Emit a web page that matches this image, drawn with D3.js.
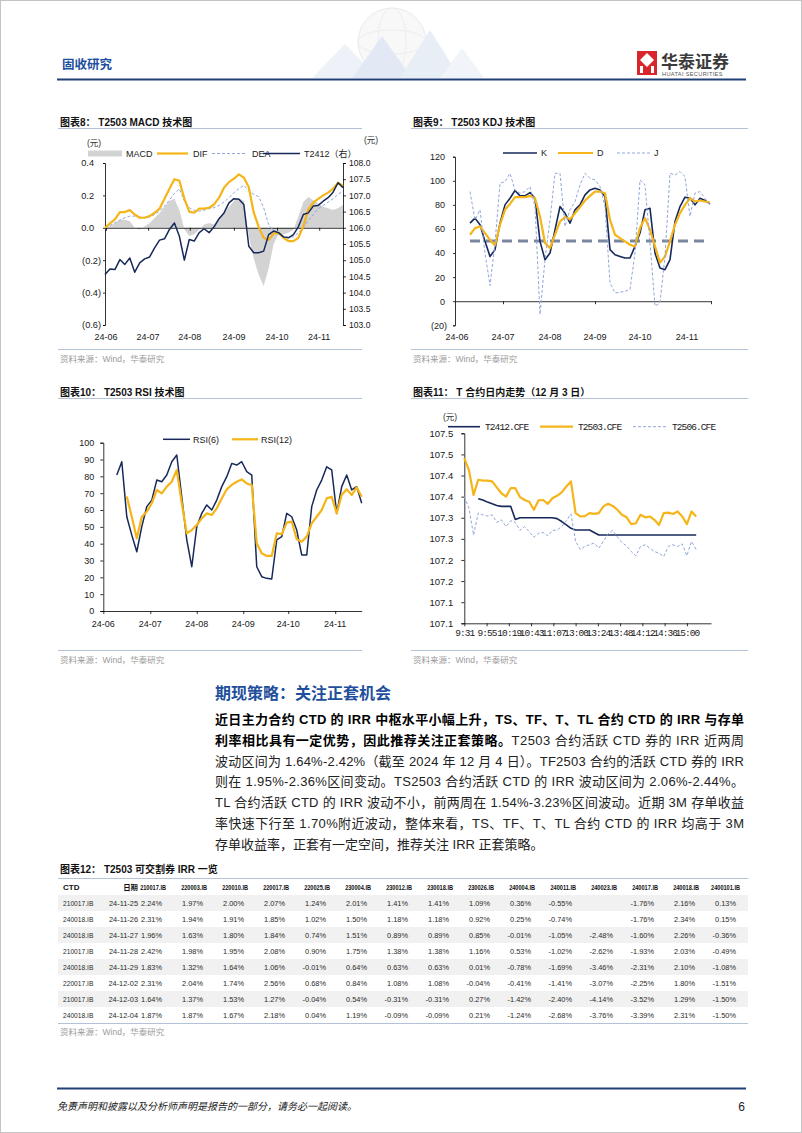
<!DOCTYPE html>
<html>
<head>
<meta charset="utf-8">
<title>T2503 技术图</title>
<script src="https://cdn.jsdelivr.net/npm/d3@7"></script>
<style>
  body { margin: 0; background: #fff; }
  svg { display: block; }
</style>
</head>
<body>
<svg id="page" width="802" height="1133"></svg>
<script>
// ---------- 图表8 MACD ----------
var macdMonths = ["24-06", "24-07", "24-08", "24-09", "24-10", "24-11"];
var macdMonthAt = [0.2, 8.7, 17.1, 26, 34.7, 43.2];
var macdLeftTicks = [-0.6, -0.4, -0.2, 0, 0.2, 0.4];
var macdRightTicks = [103, 103.5, 104, 104.5, 105, 105.5, 106, 106.5, 107, 107.5, 108];
var macdBar = [0, 0.01, 0.03, 0.05, 0.05, 0.04, 0, -0.01, 0.01, 0.03, 0.06, 0.09, 0.13, 0.165, 0.18, 0.11,
  -0.01, -0.05, -0.04, -0.01, 0.02, 0.03, 0.02, 0.06, 0.09, 0.13, 0.165, 0.185, 0.165, -0.05, -0.19, -0.29,
  -0.36, -0.25, -0.10, -0.04, -0.04, -0.03, -0.01, 0.07, 0.16, 0.19, 0.17, 0.15, 0.13, 0.12, 0.11, 0.12, 0.14];
var macdDIF = [0.00, 0.027, 0.052, 0.097, 0.097, 0.109, 0.082, 0.062, 0.062, 0.072, 0.093, 0.118, 0.179, 0.241,
  0.30, 0.29, 0.18, 0.10, 0.093, 0.118, 0.118, 0.124, 0.144, 0.186, 0.247, 0.282, 0.303, 0.33, 0.31, 0.25, 0.093,
  0.006, -0.062, -0.075, -0.035, -0.031, -0.062, -0.082, -0.082, -0.062, 0.010, 0.113, 0.155, 0.179, 0.200,
  0.217, 0.241, 0.278, 0.258];
var macdDEA = [0.000, 0.014, 0.031, 0.047, 0.062, 0.072, 0.072, 0.068, 0.062, 0.068, 0.082, 0.103, 0.134, 0.171,
  0.212, 0.241, 0.165, 0.124, 0.107, 0.103, 0.109, 0.118, 0.124, 0.138, 0.159, 0.186, 0.217, 0.241, 0.262, 0.227,
  0.206, 0.192, 0.124, 0.021, -0.021, -0.041, -0.052, -0.058, -0.056, -0.031, 0.000, 0.047, 0.082, 0.118, 0.138,
  0.159, 0.179, 0.206, 0.227];
var macdT2412 = [104.56, 104.73, 104.71, 105.02, 104.87, 105.07, 104.63, 104.92, 105.04, 105.10, 105.38, 105.62,
  105.66, 105.95, 106.15, 105.74, 105.00, 105.64, 105.59, 105.85, 105.97, 105.85, 106.03, 106.28, 106.46, 106.77,
  106.90, 106.88, 106.72, 105.43, 105.23, 105.23, 105.28, 105.79, 105.90, 105.85, 105.72, 105.69, 105.79, 106.03,
  106.41, 106.46, 106.67, 106.69, 106.82, 106.93, 107.10, 107.39, 107.24];

// ---------- 图表9 KDJ ----------
var kdjMonthAt = [-2.6, 6.6, 16, 25, 34, 43.4];
var kdjTickAt = [6.6, 25, 48.2];
var kdjTicks = [-20, 0, 20, 40, 60, 80, 100, 120];
var kdjMidLevel = 50;
var kdjK = [64.8, 69.0, 63.5, 49.7, 37.2, 42.8, 64.8, 80.0, 85.5, 91.9, 87.5, 87.5, 90.2, 85.5, 49.7, 34.5, 40.0,
  59.3, 78.6, 73.1, 64.8, 75.9, 80.0, 88.3, 92.4, 93.8, 92.4, 86.9, 42.8, 38.6, 37.2, 35.9, 35.9, 45.5, 56.6, 75.9,
  77.2, 40.0, 27.6, 26.2, 34.5, 66.2, 78.6, 86.4, 85.5, 80.0, 85.5, 83.6, 80.8];
var kdjD = [55.2, 60.7, 62.1, 56.6, 51.0, 46.3, 63.5, 75.9, 80.8, 86.4, 86.4, 86.4, 87.5, 85.5, 70.4, 48.3, 44.1,
  55.2, 66.2, 69.8, 68.1, 73.1, 78.1, 83.6, 87.5, 91.0, 91.0, 89.7, 67.6, 55.2, 52.4, 49.7, 46.9, 45.5, 60.7, 69.0,
  59.3, 45.5, 32.0, 37.2, 49.7, 63.5, 73.1, 80.0, 85.5, 82.8, 83.6, 82.8, 81.9];
var kdjJ = [91.0, 67.6, 75.9, 40.0, 13.0, 48.3, 98.0, 99.3, 106.2, 92.4, 89.7, 91.0, 95.2, 78.6, -11.0, 34.5, 67.6,
  106.2, 106.2, 62.1, 75.9, 82.8, 96.6, 106.2, 102.1, 100.7, 95.2, 78.6, 15.2, 6.9, 7.4, 8.3, 9.7, 40.0, 100.7,
  96.6, 48.3, -4.1, -1.4, 37.2, 106.2, 104.8, 107.6, 103.5, 70.4, 89.7, 91.0, 85.5, 80.0];

// ---------- 图表10 RSI ----------
var rsiMonthAt = [-2.7, 6.7, 16, 25.3, 34.3, 43.7];
var rsiTicks = [0, 10, 20, 30, 40, 50, 60, 70, 80, 90, 100];
var rsi6 = [80.8, 88.7, 56.0, 45.1, 35.2, 50.1, 62.0, 65.9, 77.8, 76.8, 80.8, 88.7, 92.7, 67.9, 42.2, 26.3, 50.1,
  58.0, 63.0, 60.0, 65.9, 73.9, 79.8, 87.7, 86.7, 88.7, 82.8, 80.8, 26.3, 20.4, 19.4, 19.0, 42.2, 44.2, 58.0, 56.0,
  48.1, 33.3, 33.3, 62.0, 71.9, 77.8, 85.7, 83.8, 58.0, 73.9, 80.8, 71.9, 73.9, 64.0];
var rsi12 = [null, null, 68.0, 56.0, 43.2, 56.0, 59.0, 64.0, 71.9, 69.9, 73.9, 76.8, 83.8, 64.0, 46.1, 48.1, 51.1,
  55.0, 58.0, 57.0, 61.0, 66.9, 72.3, 74.9, 76.8, 78.2, 75.8, 74.9, 40.2, 34.3, 32.7, 32.7, 46.1, 45.7, 52.5, 53.1,
  42.6, 41.2, 44.2, 52.1, 56.0, 60.0, 66.9, 67.9, 58.0, 68.9, 72.3, 68.9, 73.5, 67.9];

// ---------- 图表11 日内走势 (one value per 5 trading minutes) ----------
var intraStep = 5;
var intraXTicks = [0, 24, 48, 72, 96, 120, 144, 168, 192, 216, 240];
var intraXLabels = ["9:31", "9:55", "10:19", "10:43", "11:07", "13:00", "13:24", "13:48", "14:12", "14:36", "15:00"];
var intraYTicks = [107.05, 107.10, 107.15, 107.20, 107.25, 107.30, 107.35, 107.40, 107.45, 107.50];
var intraYLabels = ["107.1", "107.1", "107.2", "107.2", "107.3", "107.3", "107.4", "107.4", "107.5", "107.5"];
var intraT2412 = [null, null, null, 107.345, 107.342, 107.337, 107.333, 107.329, 107.327, 107.327, 107.327,
  107.296, 107.300, 107.300, 107.300, 107.300, 107.300, 107.300, 107.300, 107.300, 107.298, 107.291, 107.283,
  107.275, 107.271, 107.271, 107.271, 107.271, 107.265, 107.259, 107.259, 107.259, 107.259, 107.259, 107.259,
  107.259, 107.259, 107.259, 107.259, 107.259, 107.259, 107.259, 107.259, 107.259, 107.259, 107.259, 107.259,
  107.259, 107.259, 107.259, 107.259];
var intraT2503 = [107.441, 107.413, 107.354, 107.390, 107.388, 107.388, 107.386, 107.372, 107.358, 107.350,
  107.370, 107.370, 107.349, 107.342, 107.338, 107.319, 107.341, 107.342, 107.333, 107.346, 107.352, 107.360,
  107.374, 107.386, 107.311, 107.303, 107.304, 107.311, 107.309, 107.311, 107.327, 107.333, 107.328, 107.319,
  107.307, 107.301, 107.285, 107.287, 107.307, 107.301, 107.303, 107.295, 107.283, 107.311, 107.312, 107.309,
  107.315, 107.303, 107.285, 107.315, 107.303];
var intraT2506 = [107.350, 107.323, 107.259, 107.311, 107.307, 107.304, 107.307, 107.289, 107.295, 107.279,
  107.293, 107.289, 107.270, 107.279, 107.267, 107.254, 107.263, 107.265, 107.257, 107.270, 107.271, 107.279,
  107.293, 107.309, 107.244, 107.225, 107.232, 107.236, 107.240, 107.228, 107.244, 107.262, 107.270, 107.255,
  107.241, 107.233, 107.220, 107.210, 107.232, 107.236, 107.228, 107.220, 107.216, 107.208, 107.232, 107.236,
  107.232, 107.238, 107.210, 107.244, 107.225];

// ---------- 图表12 IRR 表 ----------
var irrCols = ["210017.IB", "220003.IB", "220010.IB", "220017.IB", "220025.IB", "230004.IB", "230012.IB",
  "230018.IB", "230026.IB", "240004.IB", "240011.IB", "240023.IB", "240017.IB", "240018.IB", "2400101.IB"];
var irrCTD = ["210017.IB", "240018.IB", "240018.IB", "210017.IB", "240018.IB", "220017.IB", "210017.IB", "240018.IB"];
var irrDates = ["24-11-25", "24-11-26", "24-11-27", "24-11-28", "24-11-29", "24-12-02", "24-12-03", "24-12-04"];
var irrValues = [
  ["2.24%", "1.97%", "2.00%", "2.07%", "1.24%", "2.01%", "1.41%", "1.41%", "1.09%", "0.36%", "-0.55%", "", "-1.76%", "2.16%", "0.13%"],
  ["2.31%", "1.94%", "1.91%", "1.85%", "1.02%", "1.50%", "1.18%", "1.18%", "0.92%", "0.25%", "-0.74%", "", "-1.76%", "2.34%", "0.15%"],
  ["1.96%", "1.63%", "1.80%", "1.84%", "0.74%", "1.51%", "0.89%", "0.89%", "0.85%", "-0.01%", "-1.05%", "-2.48%", "-1.60%", "2.26%", "-0.36%"],
  ["2.42%", "1.98%", "1.95%", "2.08%", "0.90%", "1.75%", "1.38%", "1.38%", "1.16%", "0.53%", "-1.02%", "-2.62%", "-1.93%", "2.03%", "-0.49%"],
  ["1.83%", "1.32%", "1.64%", "1.06%", "-0.01%", "0.64%", "0.63%", "0.63%", "0.01%", "-0.78%", "-1.69%", "-3.46%", "-2.31%", "2.10%", "-1.08%"],
  ["2.31%", "2.04%", "1.74%", "2.56%", "0.68%", "0.84%", "1.08%", "1.08%", "-0.04%", "-0.41%", "-1.41%", "-3.07%", "-2.25%", "1.80%", "-1.51%"],
  ["1.64%", "1.37%", "1.53%", "1.27%", "-0.04%", "0.54%", "-0.31%", "-0.31%", "0.27%", "-1.42%", "-2.40%", "-4.14%", "-3.52%", "1.29%", "-1.50%"],
  ["1.87%", "1.87%", "1.67%", "2.18%", "0.04%", "1.19%", "-0.09%", "-0.09%", "0.21%", "-1.24%", "-2.68%", "-3.76%", "-3.39%", "2.31%", "-1.50%"]
];

// ---------- 正文 ----------
var bodyLines = [
  [["近日主力合约 CTD 的 IRR 中枢水平小幅上升，TS、TF、T、TL 合约 CTD 的 IRR 与存单", true]],
  [["利率相比具有一定优势，因此推荐关注正套策略。", true], ["T2503 合约活跃 CTD 券的 IRR 近两周", false]],
  [["波动区间为 1.64%-2.42%（截至 2024 年 12 月 4 日）。TF2503 合约的活跃 CTD 券的 IRR", false]],
  [["则在 1.95%-2.36%区间变动。TS2503 合约活跃 CTD 的 IRR 波动区间为 2.06%-2.44%。", false]],
  [["TL 合约活跃 CTD 的 IRR 波动不小，前两周在 1.54%-3.23%区间波动。近期 3M 存单收益", false]],
  [["率快速下行至 1.70%附近波动，整体来看，TS、TF、T、TL 合约 CTD 的 IRR 均高于 3M", false]],
  [["存单收益率，正套有一定空间，推荐关注 IRR 正套策略。", false]]
];

// =====================================================================
var svg = d3.select("#page");
var NAVY = "#16295a", GOLD = "#f5b518", LBLUE = "#91a7da", GREYBAR = "#d3d3d3", RULE = "#b3c2d6";
var SANS = "'Liberation Sans', Arial, sans-serif";
var CJK = "'Liberation Sans', 'Noto Sans CJK SC', sans-serif";
var MONO = "'Liberation Mono', monospace";

svg.append("rect").attr("width", 802).attr("height", 1133).attr("fill", "#fff");
svg.append("rect").attr("x", 0.5).attr("y", 0.5).attr("width", 801).attr("height", 1132)
  .attr("fill", "none").attr("stroke", "#c4c4c4");

// header watermark
var wm = svg.append("g").attr("opacity", 0.6);
wm.append("circle").attr("cx", 392).attr("cy", 42).attr("r", 34).attr("fill", "#f4f4f4").attr("stroke", "#dedede");
wm.append("ellipse").attr("cx", 392).attr("cy", 42).attr("rx", 14).attr("ry", 34).attr("fill", "none").attr("stroke", "#e2e2e2");
wm.append("ellipse").attr("cx", 392).attr("cy", 42).attr("rx", 34).attr("ry", 12).attr("fill", "none").attr("stroke", "#e2e2e2");
[["312,78 345,44 378,78", "#e4ebf4"], ["352,78 382,36 412,78", "#cfdcee"], ["400,78 430,30 460,78", "#d8e3f1"],
 ["440,78 462,48 484,78", "#e8eef6"]].forEach(function (p) {
  wm.append("polygon").attr("points", p[0]).attr("fill", p[1]);
});

svg.append("text").attr("x", 62).attr("y", 69).attr("font-family", CJK).attr("font-size", 12.5)
  .attr("font-weight", "bold").attr("fill", "#1d4f9e").text("固收研究");
svg.append("line").attr("x1", 57).attr("x2", 746).attr("y1", 79.5).attr("y2", 79.5)
  .attr("stroke", "#203f77").attr("stroke-width", 2);

// logo
var logo = svg.append("g");
logo.append("rect").attr("x", 637).attr("y", 51).attr("width", 20).attr("height", 24).attr("fill", "#d8262c");
logo.append("polygon").attr("points", "640,60 647,53 654,60 647,67").attr("fill", "#fff");
logo.append("rect").attr("x", 640).attr("y", 66).attr("width", 3).attr("height", 7).attr("fill", "#fff");
logo.append("rect").attr("x", 651).attr("y", 66).attr("width", 3).attr("height", 7).attr("fill", "#fff");
logo.append("text").attr("x", 661).attr("y", 68).attr("font-family", CJK).attr("font-size", 17)
  .attr("font-weight", "bold").attr("fill", "#3b3b3b").text("华泰证券");
logo.append("text").attr("x", 662).attr("y", 75.5).attr("font-family", SANS).attr("font-size", 5.6)
  .attr("fill", "#555").attr("letter-spacing", 0.35).text("HUATAI SECURITIES");

// ---------- helpers ----------
function frame(x0, x1, yTitle, title, ySrc) {
  svg.append("text").attr("x", x0 + 2).attr("y", yTitle + 3.5).attr("font-family", CJK)
    .attr("font-size", 10).attr("font-weight", "bold").attr("fill", "#111").text(title);
  svg.append("line").attr("x1", x0).attr("x2", x1).attr("y1", yTitle + 6.5).attr("y2", yTitle + 6.5)
    .attr("stroke", RULE);
  svg.append("line").attr("x1", x0).attr("x2", x1).attr("y1", ySrc).attr("y2", ySrc).attr("stroke", RULE);
  svg.append("text").attr("x", x0 + 2).attr("y", ySrc + 12).attr("font-family", CJK)
    .attr("font-size", 8.5).attr("fill", "#9a9a9a").text("资料来源：Wind，华泰研究");
}

function styleAxis(g, fs, family) {
  g.select(".domain").attr("stroke", "#000").attr("stroke-width", 0.8);
  g.selectAll(".tick line").attr("stroke", "#000").attr("stroke-width", 0.8);
  g.selectAll("text").attr("font-family", family || SANS).attr("font-size", fs).attr("fill", "#1a1a1a");
  return g;
}

function paren(v) { return v < 0 ? "(" + Math.abs(v) + ")" : String(v); }

function monthLabels(xs, at, labels, y) {
  svg.append("g").selectAll("text").data(labels).join("text")
    .attr("x", function (d, i) { return xs(at[i]); }).attr("y", y)
    .attr("text-anchor", "middle").attr("font-family", SANS).attr("font-size", 9)
    .attr("fill", "#1a1a1a").text(function (d) { return d; });
}

function legendLine(x, y, w, color, width, dash, label, tx, family) {
  svg.append("line").attr("x1", x).attr("x2", x + w).attr("y1", y).attr("y2", y)
    .attr("stroke", color).attr("stroke-width", width).attr("stroke-dasharray", dash);
  svg.append("text").attr("x", tx).attr("y", y + 3.2).attr("font-family", family || CJK)
    .attr("font-size", 9).attr("fill", "#1a1a1a").text(label);
}

function drawSeries(data, xs, ys, color, width, dash, step) {
  var k = step || 1;
  svg.append("path").datum(data)
    .attr("d", d3.line().defined(function (d) { return d != null; })
      .x(function (d, i) { return xs(i * k); }).y(function (d) { return ys(d); }))
    .attr("fill", "none").attr("stroke", color).attr("stroke-width", width)
    .attr("stroke-dasharray", dash).attr("stroke-linejoin", "round");
}

// squeeze a text horizontally (the report uses a condensed face that is not installed)
function squeeze(sel, f) {
  sel.each(function () {
    var w = this.getComputedTextLength();
    if (w > 0) d3.select(this).attr("textLength", w * f).attr("lengthAdjust", "spacingAndGlyphs");
  });
}

frame(58, 362, 122, "图表8：  T2503 MACD 技术图", 349.5);
frame(411, 748, 122, "图表9：  T2503 KDJ 技术图", 349.5);
frame(58, 362, 392, "图表10：  T2503 RSI 技术图", 650.5);
frame(411, 748, 392, "图表11：  T 合约日内走势（12 月 3 日）", 650.5);

// ---------- 图表8 MACD ----------
var mx = d3.scaleLinear().domain([0, macdDIF.length - 1]).range([105, 343]);
var myL = d3.scaleLinear().domain([-0.6, 0.4]).range([325, 163]);
var myR = d3.scaleLinear().domain([103, 108]).range([325, 163]);

svg.append("path").datum(macdBar)
  .attr("d", d3.area().x(function (d, i) { return mx(i); }).y0(myL(0)).y1(function (d) { return myL(d); }))
  .attr("fill", GREYBAR);

var gML = svg.append("g").attr("transform", "translate(105,0)")
  .call(d3.axisLeft(myL).tickValues(macdLeftTicks).tickSize(2).tickPadding(2)
    .tickFormat(function (d) { return d < 0 ? "(" + Math.abs(d).toFixed(1) + ")" : d.toFixed(1); }));
styleAxis(gML, 9.2).selectAll(".tick text").attr("dx", function (d) { return d >= 0 ? -7 : 0; });
var gMR = svg.append("g").attr("transform", "translate(343,0)")
  .call(d3.axisRight(myR).tickValues(macdRightTicks).tickSize(3).tickPadding(3)
    .tickFormat(function (d) { return d.toFixed(1); }));
styleAxis(gMR, 8.6);
var gMX = svg.append("g").attr("transform", "translate(0," + myL(0) + ")")
  .call(d3.axisBottom(mx).tickValues(macdMonthAt).tickSize(3).tickSizeOuter(0).tickFormat(""));
styleAxis(gMX, 9);
monthLabels(mx, macdMonthAt, macdMonths, 340);

drawSeries(macdDEA, mx, myL, LBLUE, 1, "3,2");
drawSeries(macdDIF, mx, myL, GOLD, 2.2, null);
drawSeries(macdT2412, mx, myR, NAVY, 1.5, null);

svg.append("rect").attr("x", 88).attr("y", 150.5).attr("width", 34).attr("height", 6).attr("fill", GREYBAR);
svg.append("text").attr("x", 126).attr("y", 156.7).attr("font-family", SANS).attr("font-size", 9)
  .attr("fill", "#1a1a1a").text("MACD");
legendLine(157, 153.5, 31, GOLD, 2.2, null, "DIF", 193);
legendLine(212, 153.5, 35, LBLUE, 1, "3,2", "DEA", 252);
legendLine(263, 153.5, 37, NAVY, 1.5, null, "T2412（右）", 304);
svg.append("text").attr("x", 87).attr("y", 146).attr("font-family", CJK).attr("font-size", 8.5)
  .attr("fill", "#333").text("(元)");
svg.append("text").attr("x", 364).attr("y", 143).attr("font-family", CJK).attr("font-size", 8.5)
  .attr("fill", "#333").text("(元)");

// ---------- 图表9 KDJ ----------
var kx = d3.scaleLinear().domain([-3, 48.2]).range([455, 711]);
var ky = d3.scaleLinear().domain([-20, 120]).range([325.3, 156.7]);
var gKL = svg.append("g").attr("transform", "translate(455,0)")
  .call(d3.axisLeft(ky).tickValues(kdjTicks).tickSize(2).tickPadding(6).tickFormat(paren));
styleAxis(gKL, 9).selectAll(".tick text").attr("dx", function (d) { return d >= 0 ? -2 : 0; });
var gKX = svg.append("g").attr("transform", "translate(0," + ky(0) + ")")
  .call(d3.axisBottom(kx).tickValues(kdjTickAt).tickSize(3).tickSizeOuter(0).tickFormat(""));
styleAxis(gKX, 9);
monthLabels(kx, kdjMonthAt, macdMonths, 340);

svg.append("line").attr("x1", kx(0)).attr("x2", kx(47.7)).attr("y1", ky(kdjMidLevel)).attr("y2", ky(kdjMidLevel))
  .attr("stroke", "#7b879e").attr("stroke-width", 3).attr("stroke-dasharray", "10,6");
drawSeries(kdjK, kx, ky, NAVY, 1.6, null);
drawSeries(kdjD, kx, ky, GOLD, 2.2, null);
drawSeries(kdjJ, kx, ky, LBLUE, 1, "3,2");

legendLine(503, 153, 34, NAVY, 1.6, null, "K", 541, SANS);
legendLine(558, 153, 35, GOLD, 2.2, null, "D", 597, SANS);
legendLine(617, 153, 33, LBLUE, 1, "3,2", "J", 654, SANS);

// ---------- 图表10 RSI ----------
var rx = d3.scaleLinear().domain([-2.7, 49]).range([103.3, 361.7]);
var ry = d3.scaleLinear().domain([0, 100]).range([611, 442.7]);
var gRL = svg.append("g").attr("transform", "translate(103.3,0)")
  .call(d3.axisLeft(ry).tickValues(rsiTicks).tickSize(3).tickPadding(6));
styleAxis(gRL, 9);
var gRX = svg.append("g").attr("transform", "translate(0,611)")
  .call(d3.axisBottom(rx).tickValues(rsiMonthAt).tickSize(3).tickSizeOuter(0).tickFormat(""));
styleAxis(gRX, 9);
monthLabels(rx, rsiMonthAt, macdMonths, 626.5);

drawSeries(rsi6, rx, ry, NAVY, 1.5, null);
drawSeries(rsi12, rx, ry, GOLD, 2.2, null);

legendLine(163, 439.3, 27, NAVY, 1.5, null, "RSI(6)", 193, SANS);
legendLine(232, 439.3, 26, GOLD, 2.2, null, "RSI(12)", 261, SANS);

// ---------- 图表11 日内 ----------
var ix = d3.scaleLinear().domain([0, 266]).range([464.3, 711]);
var iy = d3.scaleLinear().domain([107.05, 107.5]).range([623.3, 433.3]);
var gIL = svg.append("g").attr("transform", "translate(464.3,0)")
  .call(d3.axisLeft(iy).tickValues(intraYTicks).tickSize(3).tickPadding(8)
    .tickFormat(function (d, i) { return intraYLabels[i]; }));
styleAxis(gIL, 9.5);
var gIX = svg.append("g").attr("transform", "translate(0,623.3)")
  .call(d3.axisBottom(ix).tickValues(intraXTicks).tickSize(3).tickPadding(3).tickSizeOuter(0)
    .tickFormat(function (d, i) { return intraXLabels[i]; }));
styleAxis(gIX, 9, MONO).selectAll(".tick text").attr("letter-spacing", -0.9);

drawSeries(intraT2412, ix, iy, NAVY, 1.6, null, intraStep);
drawSeries(intraT2503, ix, iy, GOLD, 2.2, null, intraStep);
drawSeries(intraT2506, ix, iy, LBLUE, 1, "3,2", intraStep);

legendLine(448, 426.7, 32, NAVY, 1.6, null, "T2412.CFE", 485, MONO);
legendLine(540, 426.7, 33, GOLD, 2.2, null, "T2503.CFE", 578, MONO);
legendLine(633, 426.7, 35, LBLUE, 1, "3,2", "T2506.CFE", 672, MONO);
svg.selectAll("text").filter(function () { return d3.select(this).attr("font-family") === MONO; })
  .attr("letter-spacing", -0.9).attr("font-size", 9.5);
svg.append("text").attr("x", 443).attr("y", 419.5).attr("font-family", CJK).attr("font-size", 8.5)
  .attr("fill", "#333").text("(元)");

// ---------- 正文 ----------
svg.append("text").attr("x", 215).attr("y", 699).attr("font-family", CJK).attr("font-size", 16)
  .attr("font-weight", "bold").attr("fill", "#1f4f9c").text("期现策略：关注正套机会");

var bodyW = 529;
bodyLines.forEach(function (parts, li) {
  var t = svg.append("text").attr("x", 215).attr("y", 724 + li * 20.8)
    .attr("font-family", CJK).attr("font-size", 13).attr("fill", "#1a1a1a");
  var n = 0;
  parts.forEach(function (p) {
    t.append("tspan").attr("font-weight", p[1] ? "bold" : "normal").attr("fill", p[1] ? "#000" : "#222").text(p[0]);
    n += p[0].length;
  });
  if (li < bodyLines.length - 1) {
    var w = t.node().getComputedTextLength();
    t.attr("letter-spacing", (bodyW - w) / (n - 1));
  }
});

// ---------- 图表12 表 ----------
svg.append("text").attr("x", 60).attr("y", 873).attr("font-family", CJK).attr("font-size", 10)
  .attr("font-weight", "bold").attr("fill", "#111").text("图表12：  T2503 可交割券 IRR 一览");
svg.append("line").attr("x1", 58).attr("x2", 748).attr("y1", 878.5).attr("y2", 878.5).attr("stroke", RULE);

var col = d3.scaleBand().domain(irrCols).range([121, 736]);
var rowY = d3.scaleBand().domain(irrDates).range([895, 1023]);
var tbl = svg.append("g").attr("font-family", CJK).attr("font-size", 7.4).attr("fill", "#2a2a2a");

tbl.selectAll("rect.band").data(irrDates.filter(function (d, i) { return i % 2 === 0; })).join("rect")
  .attr("x", 58).attr("width", 690).attr("y", function (d) { return rowY(d); })
  .attr("height", rowY.bandwidth()).attr("fill", "#f1f1f1");

var head = tbl.append("g").attr("font-weight", "bold").attr("fill", "#111").attr("font-size", 8);
head.append("text").attr("x", 63).attr("y", 890).text("CTD");
head.append("text").attr("x", 138).attr("y", 890).attr("text-anchor", "end").attr("font-size", 7.4).text("日期");
var heads = head.selectAll("text.c").data(irrCols).join("text").attr("class", "c")
  .attr("x", function (d) { return col(d) + col.bandwidth() + 4; }).attr("y", 890)
  .attr("text-anchor", "end").text(function (d) { return d; });
squeeze(heads, 0.7);

irrDates.forEach(function (dt, r) {
  var y = rowY(dt) + rowY.bandwidth() / 2 + 2.6;
  squeeze(tbl.append("text").attr("x", 63).attr("y", y).text(irrCTD[r]), 0.9);
  tbl.append("text").attr("x", 138).attr("y", y).attr("text-anchor", "end").text(dt);
  tbl.append("g").selectAll("text").data(irrValues[r]).join("text")
    .attr("x", function (d, i) { return col(irrCols[i]) + col.bandwidth(); }).attr("y", y)
    .attr("text-anchor", "end").text(function (d) { return d; });
});
svg.append("line").attr("x1", 58).attr("x2", 748).attr("y1", 1023.5).attr("y2", 1023.5).attr("stroke", RULE);
svg.append("text").attr("x", 60).attr("y", 1035).attr("font-family", CJK).attr("font-size", 8.5)
  .attr("fill", "#9a9a9a").text("资料来源：Wind，华泰研究");

// ---------- footer ----------
svg.append("line").attr("x1", 57).attr("x2", 746).attr("y1", 1088.5).attr("y2", 1088.5)
  .attr("stroke", "#203f77").attr("stroke-width", 2);
svg.append("text").attr("x", 57).attr("y", 1110).attr("font-family", CJK).attr("font-size", 10)
  .attr("font-style", "italic").attr("fill", "#222").text("免责声明和披露以及分析师声明是报告的一部分，请务必一起阅读。");
svg.append("text").attr("x", 745).attr("y", 1111).attr("text-anchor", "end").attr("font-family", SANS)
  .attr("font-size", 12).attr("fill", "#222").text("6");
</script>
</body>
</html>
